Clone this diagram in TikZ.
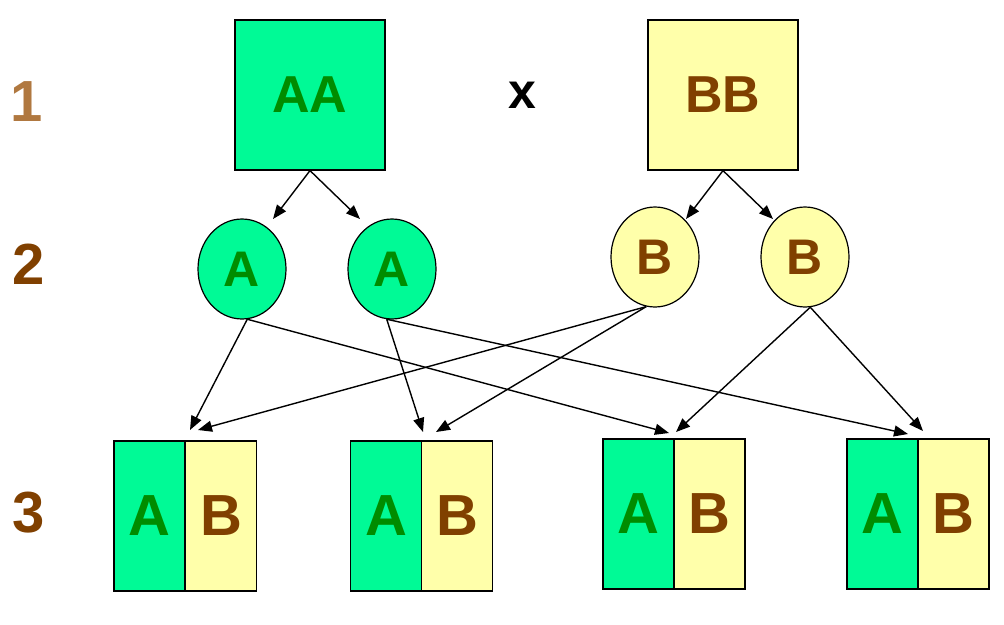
\documentclass[tikz,border=0pt]{standalone}
\usepackage{fontspec}
\setmainfont{Liberation Sans}
\usetikzlibrary{shapes.geometric,arrows.meta}
\definecolor{gfill}{RGB}{0,250,150}
\definecolor{gtext}{RGB}{0,140,0}
\definecolor{yfill}{RGB}{255,255,170}
\definecolor{btext}{RGB}{128,64,0}
\definecolor{ltbrown}{RGB}{176,120,64}
\begin{document}
\begin{tikzpicture}[x=1pt,y=-1pt,
  big/.style={font=\fontsize{52}{52}\selectfont\bfseries},
  sq/.style={draw=black,line width=1.2pt,minimum width=150pt,minimum height=150pt,inner sep=0pt,big},
  gam/.style={ellipse,draw=black,line width=1.2pt,minimum width=88pt,minimum height=100pt,inner sep=0pt,font=\fontsize{50}{50}\selectfont\bfseries},
  half/.style={draw=black,line width=1.2pt,minimum width=71pt,minimum height=150pt,inner sep=0pt,font=\fontsize{58}{58}\selectfont\bfseries},
  gr/.style={fill=gfill,text=gtext},
  ye/.style={fill=yfill,text=btext},
  lbl/.style={font=\fontsize{58}{58}\selectfont\bfseries},
  arr/.style={draw=black,line width=1.4pt,-{Triangle[length=14pt,width=11pt]}}
]
\useasboundingbox (0,0) rectangle (1004,624);

% row labels
\node[lbl,text=ltbrown] (n1) at (27,102) {1};
\node[lbl,text=btext] (n2) at (29,264) {2};
\node[lbl,text=btext] (n3) at (29,513) {3};

% parents
\node[sq,gr] (aa) at (310,95) {AA};
\node[sq,ye] (bb) at (723,95) {BB};
\node[font=\fontsize{50}{50}\selectfont\bfseries] (x) at (522,95) {x};

% gametes
\node[gam,gr] (a1) at (242,269) {A};
\node[gam,gr] (a2) at (392,269) {A};
\node[gam,ye] (b1) at (655,257) {B};
\node[gam,ye] (b2) at (805,257) {B};

% offspring
\node[half,gr] (k1a) at (149.5,516) {A};
\node[half,ye] (k1b) at (221,516) {B};
\node[half,gr] (k2a) at (386,516) {A};
\node[half,ye] (k2b) at (457,516) {B};
\node[half,gr] (k3a) at (638.5,514) {A};
\node[half,ye] (k3b) at (709.5,514) {B};
\node[half,gr] (k4a) at (882.5,514) {A};
\node[half,ye] (k4b) at (953.5,514) {B};

% arrow targets
\coordinate (ta1) at (273,219);
\coordinate (ta2) at (360,219);
\coordinate (tb1) at (686,219);
\coordinate (tb2) at (773,219);
\coordinate (t1a) at (190,430);
\coordinate (t1b) at (198,430);
\coordinate (t2a) at (423,432);
\coordinate (t2b) at (436,432);
\coordinate (t3a) at (669,433);
\coordinate (t3b) at (676,432);
\coordinate (t4a) at (908,434);
\coordinate (t4b) at (923,431);

\draw[arr] (aa.south) -- (ta1);
\draw[arr] (aa.south) -- (ta2);
\draw[arr] (bb.south) -- (tb1);
\draw[arr] (bb.south) -- (tb2);

\draw[arr] (a1.-84) -- (t1a);
\draw[arr] (a1.-84) -- (t3a);
\draw[arr] (a2.-96) -- (t2a);
\draw[arr] (a2.-96) -- (t4a);
\draw[arr] (b1.-100) -- (t1b);
\draw[arr] (b1.-100) -- (t2b);
\draw[arr] (b2.-84) -- (t3b);
\draw[arr] (b2.-84) -- (t4b);
\end{tikzpicture}
\end{document}
